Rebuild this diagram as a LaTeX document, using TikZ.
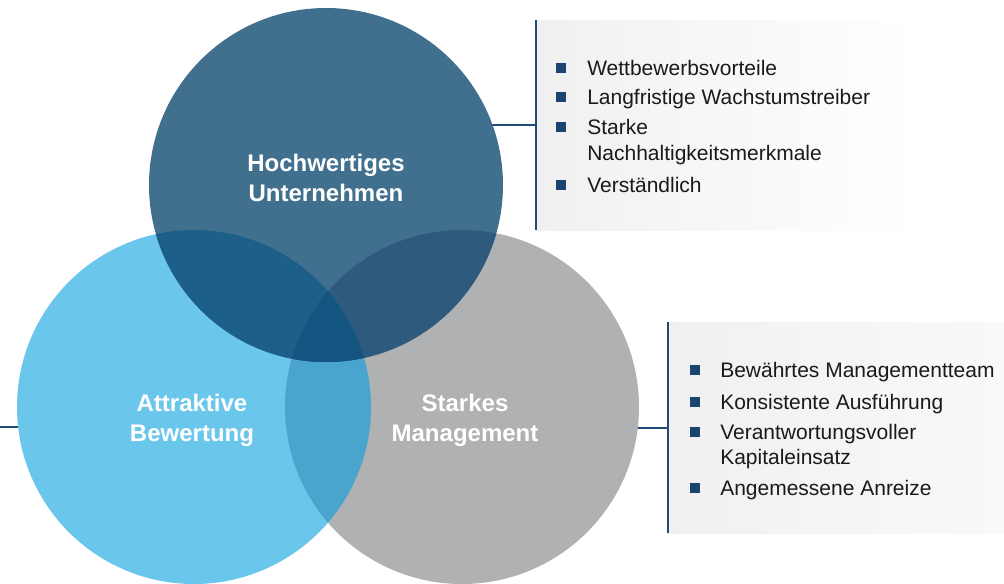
\documentclass[tikz,border=0pt]{standalone}
\usepackage{fontspec}
\setmainfont{Liberation Sans}
\definecolor{topc}{HTML}{41708F}
\definecolor{leftc}{HTML}{6BC6EB}
\definecolor{rightc}{HTML}{B0B1B3}
\definecolor{tlc}{HTML}{1C5F89}
\definecolor{trc}{HTML}{2E5A7D}
\definecolor{lrc}{HTML}{4AA5CE}
\definecolor{allc}{HTML}{135580}
\definecolor{navy}{HTML}{1B4470}
\definecolor{linec}{HTML}{1F4A75}
\definecolor{boxgray}{HTML}{F0F0F0}
\definecolor{txt}{HTML}{1A1A1A}
\def\R{132.75pt}
\begin{document}
\begin{tikzpicture}[x=0.75pt,y=-0.75pt,
  venn/.style={circle, minimum size=265.5pt, inner sep=0pt, outer sep=0pt, draw=none},
  lbl/.style={text=white, font=\fontsize{18}{22.5}\selectfont\bfseries, align=center, inner sep=0pt},
  item/.style={anchor=base west, text=txt, font=\fontsize{15.75}{19}\selectfont, inner sep=0pt},
  bul/.style={rectangle, fill=navy, minimum size=6.8pt, inner sep=0pt},
  panel/.style={anchor=north west, inner sep=0pt, outer sep=0pt, left color=boxgray, right color=white, draw=none},
  conn/.style={draw=linec, line width=1.5pt}]
\useasboundingbox (0,0) rectangle (1004,583);
% panels
\node[panel, minimum width=285pt, minimum height=157.5pt] (box1) at (536,20) {};
\node[panel, minimum width=252pt, minimum height=158.25pt, right color=boxgray!40] (box2) at (668,322) {};
% circle positions
\coordinate (cT) at (326,185);
\coordinate (cL) at (194,407);
\coordinate (cR) at (462,407);
\coordinate (lend) at (0,427);
% connectors (under the circles)
\draw[conn] (cT |- box1.west) -- (box1.west);
\draw[conn] (cR |- box2.west) -- (box2.west);
\draw[conn] (lend) -- (cL |- lend);
\draw[conn] (box1.north west) -- (box1.south west);
\draw[conn] (box2.north west) -- (box2.south west);
% circles
\node[venn, fill=leftc] (L) at (cL) {};
\node[venn, fill=rightc] (Rt) at (cR) {};
\node[venn, fill=topc] (T) at (cT) {};
\begin{scope}
  \clip (L.center) circle[radius=\R];
  \fill[lrc] (Rt.center) circle[radius=\R];
\end{scope}
\begin{scope}
  \clip (T.center) circle[radius=\R];
  \fill[tlc] (L.center) circle[radius=\R];
  \fill[trc] (Rt.center) circle[radius=\R];
  \clip (L.center) circle[radius=\R];
  \fill[allc] (Rt.center) circle[radius=\R];
\end{scope}
% labels
\node[lbl] (tlab) at (326,178) {Hochwertiges\\Unternehmen};
\node[lbl] (llab) at (192,420) {Attraktive\\Bewertung};
\node[lbl] (rlab) at (465,420) {Starkes\\Management};
% top list
\node[bul] (b11) at (561,68) {};
\node[item] (t11) at (587,75.5) {Wettbewerbsvorteile};
\node[bul] (b12) at (561,97) {};
\node[item] (t12) at (587,104.5) {Langfristige Wachstumstreiber};
\node[bul] (b13) at (561,127) {};
\node[item] (t13a) at (587,134.5) {Starke};
\node[item] (t13b) at (587,160.5) {Nachhaltigkeitsmerkmale};
\node[bul] (b14) at (561,185) {};
\node[item] (t14) at (587,192.5) {Verständlich};
% bottom list
\node[bul] (b21) at (695,370) {};
\node[item] (t21) at (720,377.5) {Bewährtes Managementteam};
\node[bul] (b22) at (695,402) {};
\node[item] (t22) at (720,409.5) {Konsistente Ausführung};
\node[bul] (b23) at (695,432) {};
\node[item] (t23a) at (720,439.5) {Verantwortungsvoller};
\node[item] (t23b) at (720,464.5) {Kapitaleinsatz};
\node[bul] (b24) at (695,488) {};
\node[item] (t24) at (720,495.5) {Angemessene Anreize};
\end{tikzpicture}
\end{document}
